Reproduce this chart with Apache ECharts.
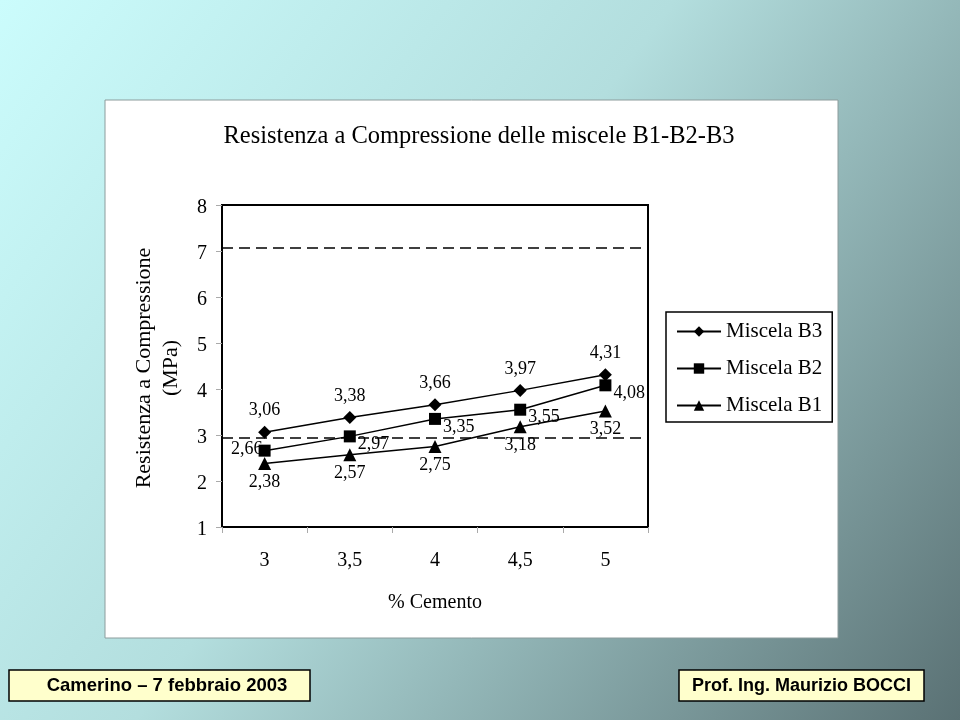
<!DOCTYPE html>
<html>
<head>
<meta charset="utf-8">
<script src="https://cdn.jsdelivr.net/npm/echarts@6/dist/echarts.min.js"></script>
<style>
html,body{margin:0;padding:0;}
#chart{width:960px;height:720px;}
</style>
</head>
<body>
<div id="chart"></div>
<script>
const categories = ['3', '3,5', '4', '4,5', '5'];
const seriesNames = ['Miscela B3', 'Miscela B2', 'Miscela B1'];
const b3 = [3.06, 3.38, 3.66, 3.97, 4.31];
const b2 = [2.66, 2.97, 3.35, 3.55, 4.08];
const b1 = [2.38, 2.57, 2.75, 3.18, 3.52];
const refLines = [7.08, 2.93];
const yTicks = { min: 1, max: 8, interval: 1 };

const serif = 'Liberation Serif, Times New Roman, serif';
const sans = 'Liberation Sans, Arial, sans-serif';
const fmt = p => p.value.toFixed(2).replace('.', ',');

const chart = echarts.init(document.getElementById('chart'));
const labelBase = { show: true, formatter: fmt, color: '#000', fontFamily: serif, fontSize: 18 };

chart.setOption({
  backgroundColor: {
    type: 'linear', x: 0, y: 0, x2: 1, y2: 1,
    colorStops: [
      { offset: 0, color: '#cbfcfc' },
      { offset: 0.45, color: '#b3dede' },
      { offset: 1, color: '#5a7174' }
    ]
  },
  animation: false,
  graphic: [
    { type: 'rect', z: -10, shape: { x: 105, y: 100, width: 733, height: 538 },
      style: { fill: '#fff', stroke: '#8c9c9c', lineWidth: 1 } },
    { type: 'text', z: 10, x: 158, y: 368, rotation: Math.PI / 2,
      style: { text: 'Resistenza a Compressione\n(MPa)', fontFamily: serif, fontSize: 22,
        lineHeight: 27, align: 'center', verticalAlign: 'middle', fill: '#000' } },
    { type: 'rect', z: 10, shape: { x: 9, y: 670, width: 301, height: 31 },
      style: { fill: '#ffffcc', stroke: '#000', lineWidth: 1.5 } },
    { type: 'text', z: 11, x: 167, y: 686,
      style: { text: 'Camerino – 7 febbraio 2003', fontFamily: sans,
        fontWeight: 'bold', fontSize: 18.5, align: 'center', verticalAlign: 'middle', fill: '#000' } },
    { type: 'rect', z: 10, shape: { x: 679, y: 670, width: 245, height: 31 },
      style: { fill: '#ffffcc', stroke: '#000', lineWidth: 1.5 } },
    { type: 'text', z: 11, x: 801.5, y: 686,
      style: { text: 'Prof. Ing. Maurizio BOCCI', fontFamily: sans,
        fontWeight: 'bold', fontSize: 18, align: 'center', verticalAlign: 'middle', fill: '#000' } }
  ],
  title: {
    text: 'Resistenza a Compressione delle miscele B1-B2-B3',
    left: 474, top: 119, textAlign: 'center',
    textStyle: { fontFamily: serif, fontSize: 24.5, fontWeight: 'normal', color: '#000' }
  },
  legend: {
    orient: 'vertical', left: 666, top: 312,
    data: seriesNames,
    borderColor: '#000', borderWidth: 1.5, backgroundColor: '#fff',
    padding: [9, 10, 6, 10], itemGap: 16, itemWidth: 44, itemHeight: 13,
    textStyle: { fontFamily: serif, fontSize: 21, color: '#000' }
  },
  grid: {
    left: 222, right: 312, top: 205, bottom: 193,
    show: true, borderColor: '#000', borderWidth: 2, backgroundColor: '#fff'
  },
  xAxis: {
    type: 'category', data: categories, boundaryGap: true,
    name: '% Cemento', nameLocation: 'middle', nameGap: 66,
    nameTextStyle: { fontFamily: serif, fontSize: 20, color: '#000' },
    axisLine: { show: true, lineStyle: { color: '#000', width: 2 } },
    axisTick: { show: true, length: 6, lineStyle: { color: '#aaa' } },
    axisLabel: { margin: 24, fontFamily: serif, fontSize: 20, color: '#000' },
    splitLine: { show: false }
  },
  yAxis: {
    type: 'value', min: yTicks.min, max: yTicks.max, interval: yTicks.interval,
    axisLine: { show: true, lineStyle: { color: '#000', width: 2 } },
    axisTick: { show: true, length: 6, lineStyle: { color: '#aaa' } },
    axisLabel: { margin: 15, fontFamily: serif, fontSize: 20, color: '#000', verticalAlign: 'top', lineHeight: 6 },
    splitLine: { show: false }
  },
  series: [
    {
      name: seriesNames[0], type: 'line', data: b3, color: '#000',
      symbol: 'diamond', symbolSize: 13, lineStyle: { color: '#000', width: 1.5 },
      label: Object.assign({}, labelBase, { position: 'top', distance: 6 }),
      markLine: {
        silent: true, symbol: 'none', label: { show: false },
        lineStyle: { color: '#000', type: [11, 6], width: 1.5 },
        data: refLines.map(v => ({ yAxis: v }))
      }
    },
    {
      name: seriesNames[1], type: 'line', data: b2.map((v, i) => i === 0
        ? { value: v, label: { position: 'left', distance: 0, offset: [4, -1] } } : v),
      color: '#000',
      symbol: 'rect', symbolSize: 12, lineStyle: { color: '#000', width: 1.5 },
      label: Object.assign({}, labelBase, { position: 'right', distance: 2, offset: [0, 8] })
    },
    {
      name: seriesNames[2], type: 'line', data: b1, color: '#000',
      symbol: 'triangle', symbolSize: 13, lineStyle: { color: '#000', width: 1.5 },
      label: Object.assign({}, labelBase, { position: 'bottom', distance: 3 })
    }
  ]
});
</script>
</body>
</html>
